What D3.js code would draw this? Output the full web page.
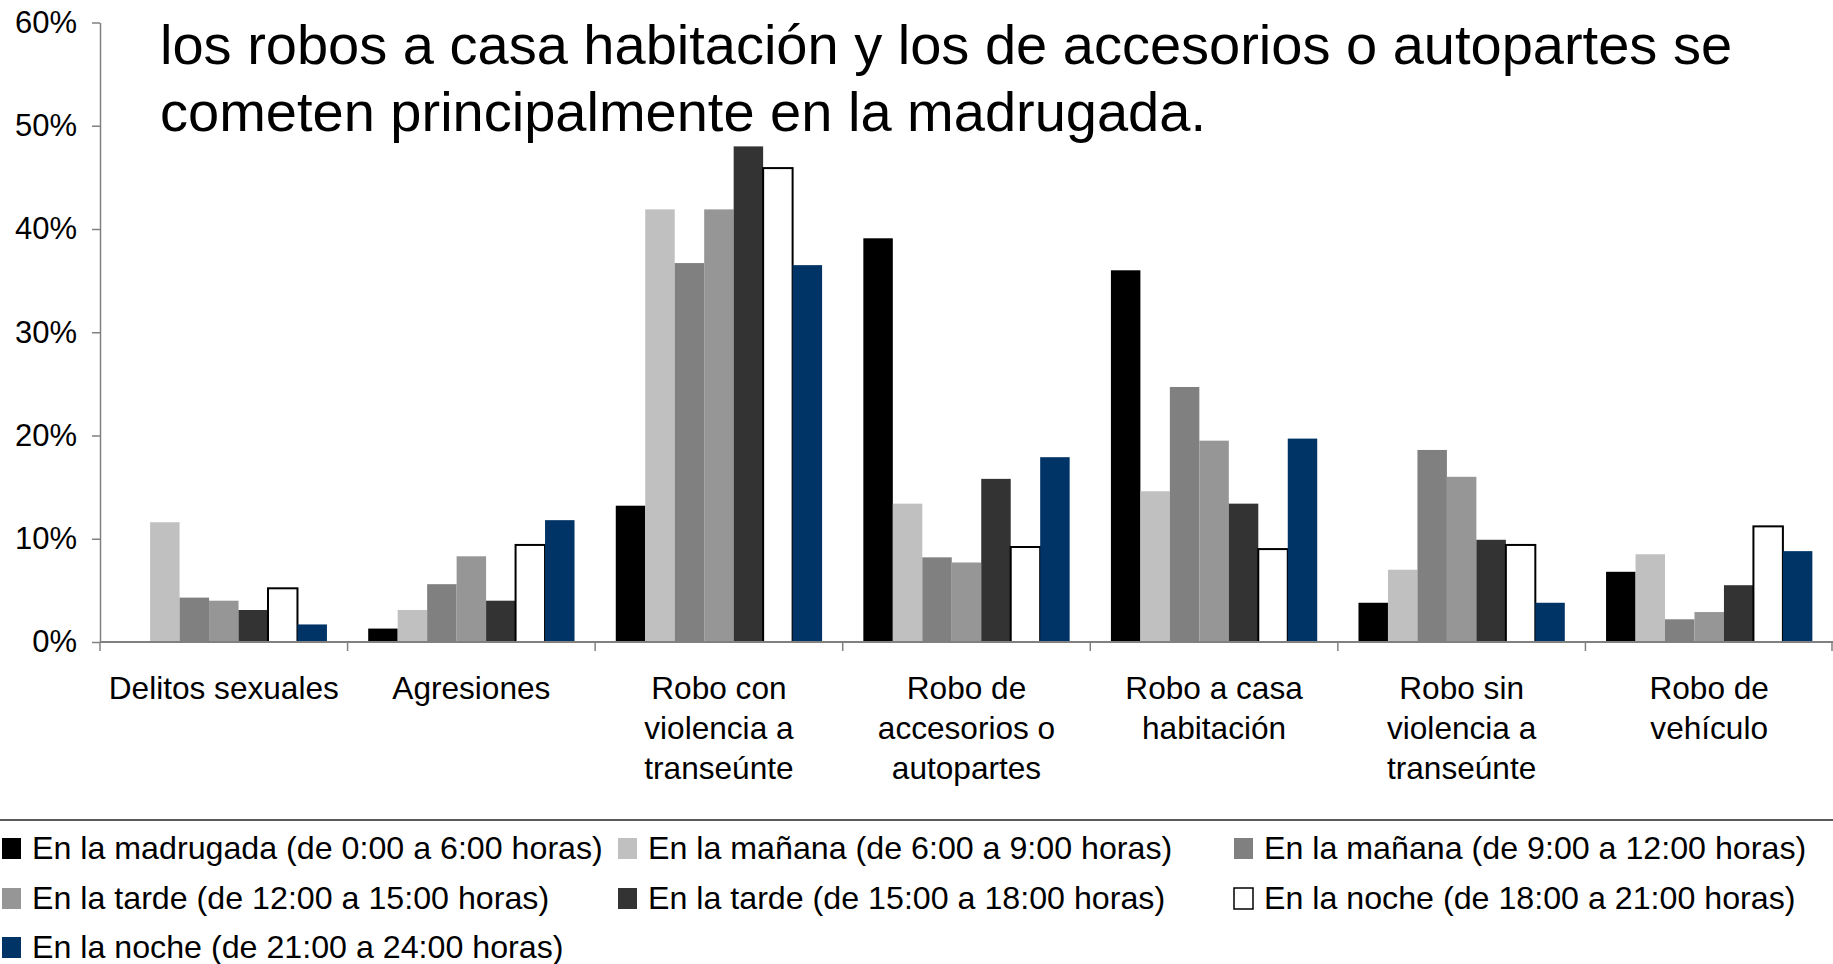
<!DOCTYPE html>
<html>
<head>
<meta charset="utf-8">
<script src="https://cdn.jsdelivr.net/npm/d3@7"></script>
<style>
  html, body { margin: 0; padding: 0; background: #ffffff; overflow: hidden; }
  svg { display: block; }
  text { font-family: "Liberation Sans", Arial, sans-serif; fill: #000; }
</style>
</head>
<body>
<svg id="chart" width="1833" height="964"></svg>
<script>
// ---------- DATA ----------
const categories = [
  "Delitos sexuales", "Agresiones", "Robo con violencia a transeúnte",
  "Robo de accesorios o autopartes", "Robo a casa habitación",
  "Robo sin violencia a transeúnte", "Robo de vehículo"
];
const categoryLabelLines = [
  ["Delitos sexuales"],
  ["Agresiones"],
  ["Robo con", "violencia a", "transeúnte"],
  ["Robo de", "accesorios o", "autopartes"],
  ["Robo a casa", "habitación"],
  ["Robo sin", "violencia a", "transeúnte"],
  ["Robo de", "vehículo"]
];
const seriesNames = [
  "En la madrugada (de 0:00 a 6:00 horas)",
  "En la mañana (de 6:00 a 9:00 horas)",
  "En la mañana (de 9:00 a 12:00 horas)",
  "En la tarde (de 12:00 a 15:00 horas)",
  "En la tarde (de 15:00 a 18:00 horas)",
  "En la noche (de 18:00 a 21:00 horas)",
  "En la noche (de 21:00 a 24:00 horas)"
];
// values in percent, one per category
const madrugada   = [0.0, 1.3, 13.2, 39.1, 36.0, 3.8, 6.8];
const manana6a9   = [11.6, 3.1, 41.9, 13.4, 14.6, 7.0, 8.5];
const manana9a12  = [4.3, 5.6, 36.7, 8.2, 24.7, 18.6, 2.2];
const tarde12a15  = [4.0, 8.3, 41.9, 7.7, 19.5, 16.0, 2.9];
const tarde15a18  = [3.1, 4.0, 48.0, 15.8, 13.4, 9.9, 5.5];
const noche18a21  = [5.2, 9.4, 45.9, 9.2, 9.0, 9.4, 11.2];
const noche21a24  = [1.7, 11.8, 36.5, 17.9, 19.7, 3.8, 8.8];
const seriesValues = [madrugada, manana6a9, manana9a12, tarde12a15, tarde15a18, noche18a21, noche21a24];
const yTicks = [0, 10, 20, 30, 40, 50, 60];
const titleLines = [
  "los robos a casa habitación y los de accesorios o autopartes se",
  "cometen principalmente en la madrugada."
];

// ---------- STYLE ----------
const fills   = ["#000000", "#C0C0C0", "#808080", "#969696", "#333333", "#FFFFFF", "#003366"];
const strokes = [null, null, null, null, null, "#000000", null];

const svg = d3.select("#chart");
const plotLeft = 100, plotRight = 1833, plotTop = 22.5, plotBottom = 642;

const x = d3.scaleBand().domain(categories).range([plotLeft, plotRight]).paddingInner(0).paddingOuter(0);
const xs = d3.scaleBand().domain(d3.range(seriesNames.length)).range([0, x.bandwidth()]).paddingInner(0).paddingOuter(0.7);
const y = d3.scaleLinear().domain([0, 60]).range([plotBottom, plotTop]);

// bars
const groups = svg.append("g").selectAll("g")
  .data(categories).join("g")
  .attr("transform", d => `translate(${x(d)},0)`);

groups.selectAll("rect")
  .data((c, ci) => seriesValues.map((vals, si) => ({ si, v: vals[ci] })))
  .join("rect")
  .attr("x", d => xs(d.si))
  .attr("width", xs.bandwidth())
  .attr("y", d => y(d.v))
  .attr("height", d => Math.max(0, y(0) - y(d.v)))
  .attr("fill", d => fills[d.si])
  .attr("stroke", d => strokes[d.si] || "none")
  .attr("stroke-width", d => strokes[d.si] ? 2 : 0);

// y axis
const yAxis = d3.axisLeft(y).tickValues(yTicks).tickSize(8).tickSizeOuter(0).tickPadding(15)
  .tickFormat(d => d + "%");
const gy = svg.append("g").attr("transform", `translate(${plotLeft},0)`).call(yAxis);
gy.select(".domain").attr("stroke", "#808080").attr("stroke-width", 1.5);
gy.selectAll(".tick line").attr("stroke", "#808080").attr("stroke-width", 1.5);
gy.selectAll(".tick text").attr("font-size", 31).attr("fill", "#000")
  .attr("font-family", "'Liberation Sans', Arial, sans-serif");

// x axis line
svg.append("line")
  .attr("x1", plotLeft).attr("x2", plotRight)
  .attr("y1", y(0)).attr("y2", y(0))
  .attr("stroke", "#808080").attr("stroke-width", 2);
// category boundary ticks
const boundaries = categories.map(c => x(c)).concat([x(categories[categories.length - 1]) + x.bandwidth()]);
svg.append("g").selectAll("line").data(boundaries).join("line")
  .attr("x1", d => Math.min(d, 1832)).attr("x2", d => Math.min(d, 1832))
  .attr("y1", y(0)).attr("y2", y(0) + 9)
  .attr("stroke", "#808080").attr("stroke-width", 1.5);

// category labels
const catLabels = svg.append("g").selectAll("text")
  .data(categories).join("text")
  .attr("x", d => x(d) + x.bandwidth() / 2)
  .attr("y", 699)
  .attr("text-anchor", "middle")
  .attr("font-size", 31.6);
catLabels.selectAll("tspan")
  .data((d, i) => categoryLabelLines[i]).join("tspan")
  .attr("x", function () { return this.parentNode.getAttribute("x"); })
  .attr("dy", (d, i) => i === 0 ? 0 : 40)
  .text(d => d);

// title overlay
svg.append("g").selectAll("text")
  .data(titleLines).join("text")
  .attr("x", 160)
  .attr("y", (d, i) => 64 + i * 67)
  .attr("font-size", 56)
  .text(d => d);

// legend separator
svg.append("line")
  .attr("x1", 0).attr("x2", 1833).attr("y1", 820).attr("y2", 820)
  .attr("stroke", "#595959").attr("stroke-width", 2);

// legend
const colX = [2, 618, 1234];
const rowY = [859, 909, 958];
const legend = svg.append("g").selectAll("g")
  .data(seriesNames).join("g")
  .attr("transform", (d, i) => `translate(${colX[i % 3]},${rowY[Math.floor(i / 3)]})`);
legend.append("rect")
  .attr("x", 0)
  .attr("y", -21)
  .attr("width", 19).attr("height", 21)
  .attr("fill", (d, i) => fills[i])
  .attr("stroke", (d, i) => strokes[i] || "none")
  .attr("stroke-width", (d, i) => strokes[i] ? 1.5 : 0);
legend.append("text")
  .attr("x", 30).attr("y", 0)
  .attr("font-size", 32.2)
  .text(d => d);
</script>
</body>
</html>
